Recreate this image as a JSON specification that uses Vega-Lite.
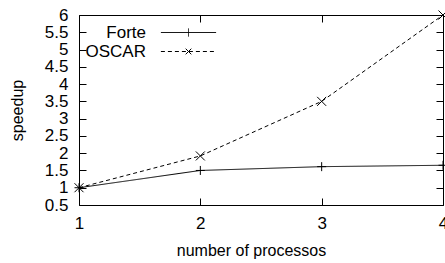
{
  "$schema": "https://vega.github.io/schema/vega-lite/v6.json",
  "width": 364,
  "height": 190,
  "autosize": {"type": "none"},
  "padding": {"left": 79, "top": 15, "right": 2, "bottom": 58},
  "background": "white",
  "config": {
    "font": "Liberation Sans",
    "view": {"stroke": "black", "strokeWidth": 1},
    "axis": {
      "grid": false,
      "domain": false,
      "tickColor": "black",
      "tickWidth": 1,
      "tickSize": -7,
      "labelColor": "black",
      "labelFont": "Liberation Sans",
      "labelFontSize": 17,
      "titleFont": "Liberation Sans",
      "titleFontSize": 16,
      "titleFontWeight": "normal",
      "titleColor": "black"
    }
  },
  "data": {
    "values": [
      {"processors": 1, "speedup": 1.0, "series": "Forte"},
      {"processors": 2, "speedup": 1.5, "series": "Forte"},
      {"processors": 3, "speedup": 1.61, "series": "Forte"},
      {"processors": 4, "speedup": 1.65, "series": "Forte"},
      {"processors": 1, "speedup": 1.0, "series": "OSCAR"},
      {"processors": 2, "speedup": 1.92, "series": "OSCAR"},
      {"processors": 3, "speedup": 3.5, "series": "OSCAR"},
      {"processors": 4, "speedup": 6.0, "series": "OSCAR"}
    ]
  },
  "layer": [
    {
      "mark": {"type": "line", "color": "black", "strokeWidth": 1},
      "encoding": {
        "x": {
          "field": "processors", "type": "quantitative",
          "scale": {"domain": [1, 4], "nice": false},
          "axis": {"orient": "bottom", "values": [1, 2, 3, 4], "format": "~g", "labelPadding": 17, "title": "number of processos", "titlePadding": 11, "titleX": 172, "labelFlush": false}
        },
        "y": {
          "field": "speedup", "type": "quantitative",
          "scale": {"domain": [0.5, 6], "nice": false, "zero": false},
          "axis": {"orient": "left", "values": [0.5, 1, 1.5, 2, 2.5, 3, 3.5, 4, 4.5, 5, 5.5, 6], "format": "~g", "labelPadding": 18, "title": "speedup", "titlePadding": 19, "labelFlush": false}
        },
        "strokeDash": {
          "field": "series", "type": "nominal",
          "scale": {"domain": ["Forte", "OSCAR"], "range": [[1, 0], [4, 3]]},
          "legend": {
            "orient": "none",
            "legendX": 73,
            "legendY": 9,
            "padding": 0,
            "title": null,
            "symbolSize": 64,
            "symbolOffset": 28,
            "symbolStrokeColor": "black",
            "symbolStrokeWidth": 1,
            "symbolFillColor": "transparent",
            "labelFont": "Liberation Sans",
            "labelFontSize": 17,
            "labelColor": "black",
            "labelAlign": "right",
            "labelOffset": -51,
            "rowPadding": 1,
            "encode": {
              "symbols": {
                "update": {
                  "shape": {"signal": "datum.value == 'Forte' ? 'M-6.9,0L6.9,0M0,-1L0,1' : 'M-6.9,0L6.9,0M0,0L0.85,0.85M0,0L-0.85,0.85M0,0L0.85,-0.85M0,0L-0.85,-0.85'"},
                  "stroke": {"value": "black"},
                  "fill": {"value": "transparent"}
                }
              }
            }
          }
        }
      }
    },
    {
      "transform": [{"filter": "datum.series == 'Forte'"}],
      "mark": {"type": "point", "shape": "M-1,0L1,0M0,-1L0,1", "filled": false, "stroke": "black", "strokeWidth": 1, "size": 81, "opacity": 1},
      "encoding": {
        "x": {"field": "processors", "type": "quantitative", "scale": {"domain": [1, 4], "nice": false}, "axis": null},
        "y": {"field": "speedup", "type": "quantitative", "scale": {"domain": [0.5, 6], "nice": false, "zero": false}, "axis": null}
      }
    },
    {
      "transform": [{"filter": "datum.series == 'OSCAR'"}],
      "mark": {"type": "point", "shape": "M-1,-1L1,1M-1,1L1,-1", "filled": false, "stroke": "black", "strokeWidth": 1, "size": 81, "opacity": 1},
      "encoding": {
        "x": {"field": "processors", "type": "quantitative", "scale": {"domain": [1, 4], "nice": false}, "axis": null},
        "y": {"field": "speedup", "type": "quantitative", "scale": {"domain": [0.5, 6], "nice": false, "zero": false}, "axis": null}
      }
    },
    {
      "mark": {"type": "line", "strokeOpacity": 0},
      "encoding": {
        "x": {
          "field": "processors", "type": "quantitative",
          "scale": {"domain": [1, 4], "nice": false},
          "axis": {"orient": "top", "values": [1, 2, 3, 4], "labels": false, "title": null}
        },
        "y": {
          "field": "speedup", "type": "quantitative",
          "scale": {"domain": [0.5, 6], "nice": false, "zero": false},
          "axis": {"orient": "right", "values": [0.5, 1, 1.5, 2, 2.5, 3, 3.5, 4, 4.5, 5, 5.5, 6], "labels": false, "title": null}
        },
        "detail": {"field": "series"}
      }
    }
  ],
  "resolve": {"axis": {"x": "independent", "y": "independent"}}
}
